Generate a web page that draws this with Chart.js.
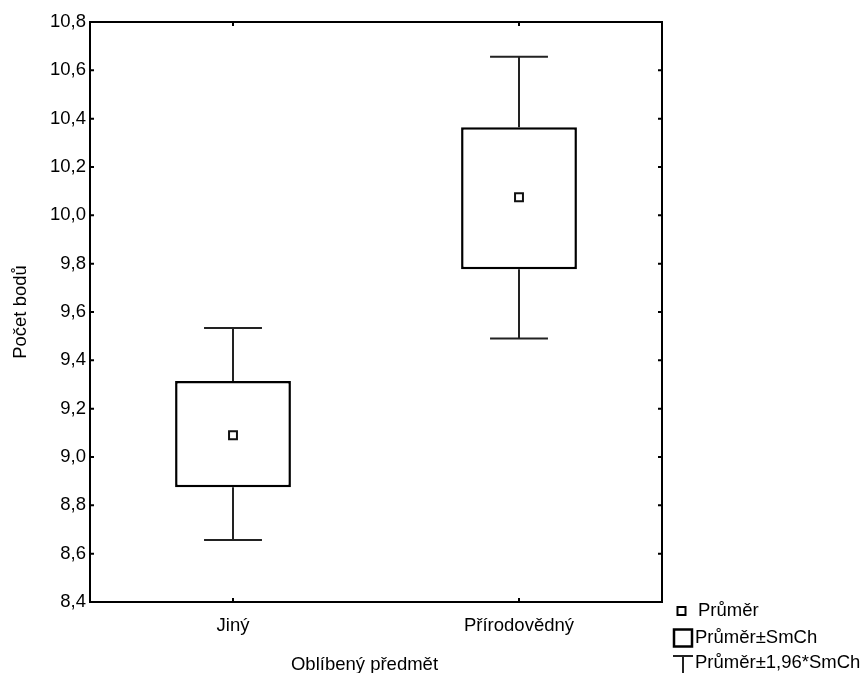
<!DOCTYPE html>
<html>
<head>
<meta charset="utf-8">
<script src="https://cdn.jsdelivr.net/npm/chart.js@4/dist/chart.umd.min.js"></script>
<style>
  html, body { margin: 0; padding: 0; background: #fff; }
  #wrap { width: 866px; height: 673px; }
</style>
</head>
<body>
<div id="wrap"><canvas id="c" width="866" height="673"></canvas></div>
<script>
// Categories of the favourite subject
const categories = ['Jiný', 'Přírodovědný'];
// Mean score per group
const means = [9.09, 10.075];
// Mean ± standard error (box)
const seLow = [8.875, 9.777];
const seHigh = [9.315, 10.364];
// Mean ± 1.96 * standard error (whiskers)
const ciLow = [8.657, 9.49];
const ciHigh = [9.534, 10.656];
// Value axis
const yMin = 8.4, yMax = 10.8, yStep = 0.2;

const FONT = '"Liberation Sans", Arial, sans-serif';
const FSIZE = 18.5;
const fmt = v => v.toFixed(1).replace('.', ',');

// Frame, inward tick marks, whiskers, axis titles and legend
const decorations = {
  id: 'decorations',
  beforeDatasetsDraw(chart) {
    const { ctx, scales: { x, y } } = chart;
    ctx.save();
    ctx.strokeStyle = '#222';
    ctx.lineWidth = 2;
    ctx.lineCap = 'butt';
    const barMeta = chart.getDatasetMeta(0);
    categories.forEach((c, i) => {
      const px = x.getPixelForValue(i);
      const half = barMeta.data[i].width / 4;
      const yTop = y.getPixelForValue(ciHigh[i]);
      const yBot = y.getPixelForValue(ciLow[i]);
      const bTop = y.getPixelForValue(seHigh[i]);
      const bBot = y.getPixelForValue(seLow[i]);
      ctx.beginPath();
      ctx.moveTo(px, yTop); ctx.lineTo(px, bTop);
      ctx.moveTo(px, bBot); ctx.lineTo(px, yBot);
      ctx.moveTo(px - half, yTop); ctx.lineTo(px + half, yTop);
      ctx.moveTo(px - half, yBot); ctx.lineTo(px + half, yBot);
      ctx.stroke();
    });
    ctx.restore();
  },
  afterDraw(chart) {
    const { ctx, chartArea: a, scales: { x, y } } = chart;
    ctx.save();
    ctx.strokeStyle = '#000';
    ctx.lineWidth = 2;
    ctx.strokeRect(a.left, a.top, a.right - a.left, a.bottom - a.top);
    ctx.beginPath();
    const tl = 4;
    y.ticks.forEach((t, i) => {
      const py = y.getPixelForTick(i);
      ctx.moveTo(a.left, py); ctx.lineTo(a.left + tl, py);
      ctx.moveTo(a.right, py); ctx.lineTo(a.right - tl, py);
    });
    x.ticks.forEach((t, i) => {
      const px = x.getPixelForTick(i);
      ctx.moveTo(px, a.bottom); ctx.lineTo(px, a.bottom - tl);
      ctx.moveTo(px, a.top); ctx.lineTo(px, a.top + tl);
    });
    ctx.stroke();

    // Axis titles
    ctx.fillStyle = '#000';
    ctx.font = FSIZE + 'px ' + FONT;
    ctx.textAlign = 'center';
    ctx.textBaseline = 'alphabetic';
    ctx.fillText('Oblíbený předmět', 364.5, 670);
    ctx.save();
    ctx.translate(26, (a.top + a.bottom) / 2);
    ctx.rotate(-Math.PI / 2);
    ctx.fillText('Počet bodů', 0, 0);
    ctx.restore();

    // Legend
    ctx.textAlign = 'left';
    ctx.textBaseline = 'middle';
    ctx.lineWidth = 2;
    ctx.strokeStyle = '#000';
    ctx.strokeRect(677.5, 607, 8, 8);
    ctx.fillText('Průměr', 698, 611);
    ctx.lineWidth = 2.5;
    ctx.strokeRect(674, 629.5, 18, 17);
    ctx.fillText('Průměr±SmCh', 695, 638);
    ctx.lineWidth = 2;
    ctx.beginPath();
    ctx.moveTo(673, 656); ctx.lineTo(693, 656);
    ctx.moveTo(683, 656); ctx.lineTo(683, 673);
    ctx.strokeStyle = '#222';
    ctx.stroke();
    ctx.fillText('Průměr±1,96*SmCh', 695, 663);
    ctx.restore();
  }
};

new Chart(document.getElementById('c'), {
  type: 'bar',
  data: {
    labels: categories,
    datasets: [
      {
        label: 'Průměr±SmCh',
        data: categories.map((c, i) => [seLow[i], seHigh[i]]),
        backgroundColor: '#fff',
        borderColor: '#000',
        borderWidth: 2.5,
        borderSkipped: false,
        barPercentage: 0.405,
        categoryPercentage: 1.0,
        order: 2
      },
      {
        type: 'line',
        label: 'Průměr',
        data: means,
        showLine: false,
        pointStyle: 'rect',
        pointRadius: 5.6,
        pointHoverRadius: 5.6,
        pointBorderWidth: 2,
        pointBackgroundColor: '#fff',
        pointBorderColor: '#111',
        order: 1
      }
    ]
  },
  options: {
    responsive: false,
    animation: false,
    devicePixelRatio: 1,
    layout: { padding: { left: 0, top: 22, right: 204, bottom: 0 } },
    plugins: { legend: { display: false }, tooltip: { enabled: false } },
    scales: {
      x: {
        offset: true,
        grid: { display: false, drawTicks: false },
        border: { display: false },
        ticks: { color: '#000', font: { family: FONT, size: FSIZE }, padding: 13 },
        afterFit(s) { s.height = 71; }
      },
      y: {
        min: yMin,
        max: yMax,
        grid: { display: false, drawTicks: false },
        border: { display: false },
        ticks: {
          stepSize: yStep,
          color: '#000',
          font: { family: FONT, size: FSIZE },
          padding: 4,
          callback: v => fmt(v)
        },
        afterFit(s) { s.width = 90; }
      }
    }
  },
  plugins: [decorations]
});
</script>
</body>
</html>
